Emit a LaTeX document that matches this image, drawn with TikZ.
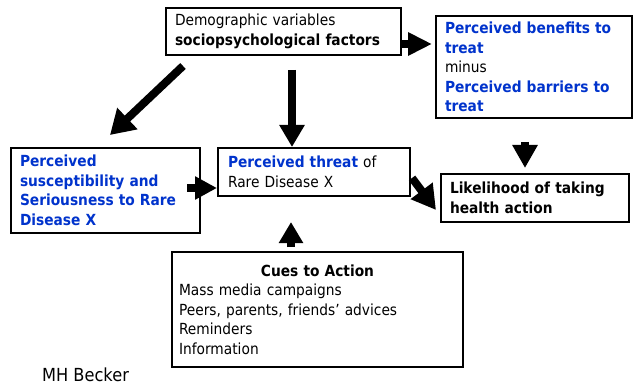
\documentclass[tikz,border=0pt]{standalone}
\usepackage{fontspec}
\setmainfont{DejaVu Sans}[FakeStretch=0.9]
\usetikzlibrary{arrows.meta}
\definecolor{hbmblue}{RGB}{0,51,204}
\begin{document}
\begin{tikzpicture}[x=1pt,y=-1pt,
  box/.style={draw=black, line width=1.5pt, fill=white, inner xsep=9pt, inner ysep=0pt,
    outer sep=0pt, align=left, font=\fontsize{15.3pt}{19.5pt}\selectfont},
  blk/.style={line width=8pt, draw=black},
  hd/.style={line width=8pt, draw=black, -{Triangle[length=#1]}},
  kw/.style={text=hbmblue}
]
\useasboundingbox (0,0) rectangle (635,385);

% boxes of the model
\node[box, text width=217pt, minimum width=235pt, minimum height=47pt] (top) at (283.5,31.5)
  {Demographic variables\\\textbf{sociopsychological factors}};
\node[box, text width=178pt, minimum width=196pt, minimum height=102pt] (ben) at (534,67)
  {\textbf{\color{hbmblue}Perceived benefits to}\\\textbf{\color{hbmblue}treat}\\minus\\
   \textbf{\color{hbmblue}Perceived barriers to}\\\textbf{\color{hbmblue}treat}};
\node[box, text width=171pt, minimum width=189pt, minimum height=85pt] (susc) at (105.5,190.5)
  {\textbf{\color{hbmblue}Perceived}\\\textbf{\color{hbmblue}susceptibility and}\\
   \textbf{\color{hbmblue}Seriousness to Rare}\\\textbf{\color{hbmblue}Disease X}};
\node[box, inner xsep=10pt, text width=172pt, minimum width=192pt, minimum height=48pt] (threat) at (314,172)
  {\textbf{\color{hbmblue}Perceived threat} of\\Rare Disease X};
\node[box, text width=170pt, minimum width=188pt, minimum height=48pt] (lik) at (535,198)
  {\textbf{Likelihood of taking}\\\textbf{health action}};
\node[box, inner xsep=7pt, text width=277pt, minimum width=291pt, minimum height=115pt] (cues) at (317.5,309.5)
  {\makebox[277pt]{\textbf{Cues to Action}}\\Mass media campaigns\\Peers, parents, friends’ advices\\Reminders\\Information};

\node[anchor=base west, inner sep=0pt, font=\fontsize{18pt}{20pt}\selectfont] (src) at (42,381) {MH Becker};

% block arrows
\draw[line width=8pt, -{Triangle[length=24pt,width=22pt]}]
  ([yshift=-12.5pt]top.east) -- ([xshift=-4pt,yshift=23pt]ben.west);
\draw[line width=8pt, -{Triangle[length=24pt,width=28pt]}]
  ([xshift=17pt,yshift=-11pt]top.south west) -- ([xshift=4.5pt,yshift=13pt]susc.north);
\draw[line width=8pt, -{Triangle[length=22pt,width=24pt]}]
  ([xshift=8.5pt,yshift=-15pt]top.south) -- ([xshift=-22pt,yshift=1pt]threat.north);
\draw[line width=8pt, -{Triangle[length=23pt,width=24pt]}]
  ([xshift=-9pt,yshift=-24pt]ben.south) -- ([xshift=-10pt,yshift=6pt]lik.north);
\draw[line width=8pt, -{Triangle[length=22pt,width=22pt]}]
  ([xshift=-13pt,yshift=2.5pt]susc.east) -- ([xshift=-1pt,yshift=-16pt]threat.west);
\draw[line width=8pt, -{Triangle[length=24pt,width=26pt]}]
  ([xshift=2pt,yshift=-6pt]threat.east) -- ([xshift=-5pt,yshift=-12pt]lik.west);
\draw[line width=8pt, -{Triangle[length=21pt,width=23pt]}]
  ([xshift=-26.5pt,yshift=5pt]cues.north) -- ([xshift=-23pt,yshift=-26pt]threat.south);
\end{tikzpicture}
\end{document}
